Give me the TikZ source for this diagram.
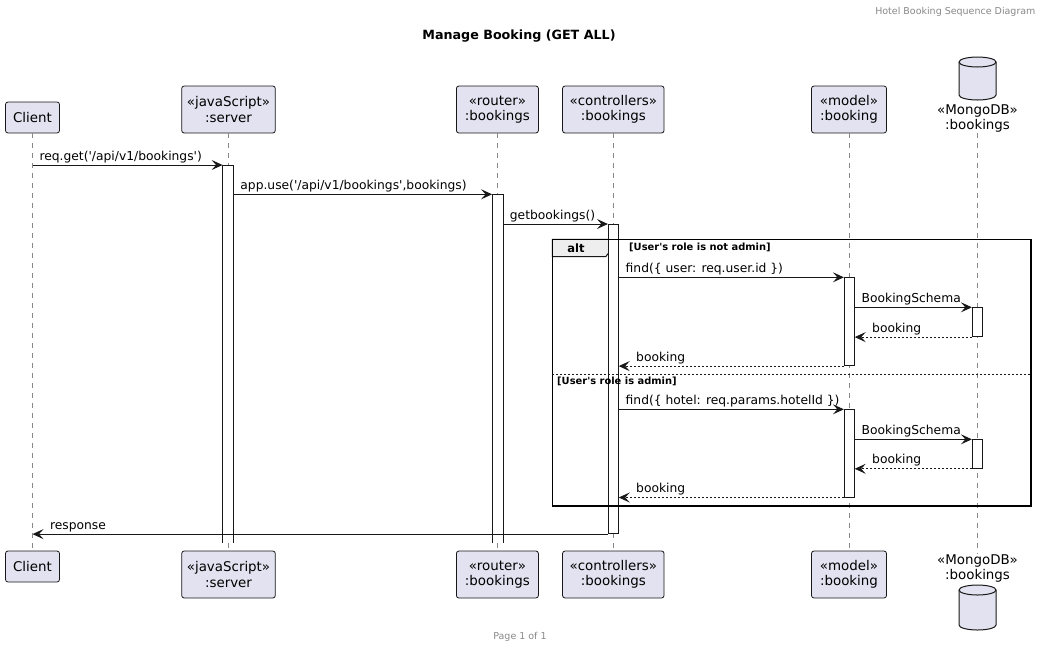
\documentclass[tikz,border=0pt]{standalone}
\usepackage{fontspec}
\setmainfont{DejaVu Sans}
\usetikzlibrary{arrows.meta}

\definecolor{partfill}{HTML}{E2E2F0}
\definecolor{partline}{HTML}{181818}
\definecolor{tabfill}{HTML}{EEEEEE}
\definecolor{notegray}{HTML}{888888}

\newcommand{\partfont}{\fontsize{13.4}{15.5}\selectfont}
\newcommand{\msgfont}{\fontsize{12.3}{14}\selectfont}
\newcommand{\guardfont}{\fontsize{9.9}{12}\selectfont\bfseries}
\newcommand{\smallfont}{\fontsize{9.5}{11}\selectfont}
\newcommand{\q}{\textquotesingle}

\tikzset{
    part/.style={draw=partline, fill=partfill, line width=0.8pt, rounded corners=2.5pt,
        align=center, inner sep=0pt, font=\partfont},
    dbtext/.style={align=center, inner sep=0pt, font=\partfont},
    dbshape/.style={draw=partline, fill=partfill, line width=1pt},
    life/.style={draw=notegray, line width=0.7pt, dash pattern=on 5pt off 5pt},
    act/.style={draw=partline, fill=white, line width=0.8pt, minimum width=10pt,
        inner sep=0pt, anchor=north},
    actopen/.style={act, draw=none},
    actside/.style={draw=partline, line width=0.8pt},
    msg/.style={draw=partline, line width=1pt, -{Stealth[length=11pt,width=10pt,inset=4.5pt]}},
    ret/.style={msg, dash pattern=on 2pt off 2pt},
    lblr/.style={anchor=base west, xshift=6.5pt, yshift=5pt, inner sep=0pt, font=\msgfont},
    lbll/.style={anchor=base west, xshift=17pt, yshift=5pt, inner sep=0pt, font=\msgfont},
    guard/.style={anchor=west, inner sep=0pt, font=\guardfont}
}

\begin{document}
\begin{tikzpicture}[x=1pt, y=-1pt]
    \useasboundingbox (0,0) rectangle (1046,649);

    % header, title and footer
    \node[font=\smallfont, text=notegray, anchor=east] (header) at (1039,12) {Hotel Booking Sequence Diagram};
    \node[font=\fontsize{12.7}{15}\selectfont\bfseries] (title) at (519,36) {Manage Booking (GET ALL)};
    \node[font=\smallfont, text=notegray] (footer) at (520,637) {Page 1 of 1};

    % participants, top row
    \node[part, minimum width=54pt, minimum height=31pt] (cli) at (32.5,117.5) {Client};
    \node[part, minimum width=93.6pt, minimum height=47pt] (srv) at (228.5,109.5) {«javaScript»\\:server};
    \node[part, minimum width=82pt, minimum height=47pt] (rtr) at (497.4,109.5) {«router»\\:bookings};
    \node[part, minimum width=101.5pt, minimum height=47pt] (ctl) at (613.3,109.5) {«controllers»\\:bookings};
    \node[part, minimum width=75pt, minimum height=47pt] (mdl) at (849,109.5) {«model»\\:booking};
    \node[dbtext] (db) at (977.5,118.5) {«MongoDB»\\:bookings};
    \draw[dbshape] (959,62) -- (959,95) arc[start angle=180, end angle=0, x radius=18.5, y radius=5]
        -- (996,62) arc[start angle=0, end angle=-180, x radius=18.5, y radius=5] -- cycle;
    \draw[partline, line width=1pt] (959,62) arc[start angle=180, end angle=0, x radius=18.5, y radius=5];

    % participants, bottom row
    \node[part, minimum width=54pt, minimum height=31pt] (cli2) at (32.5,566.5) {Client};
    \node[part, minimum width=93.6pt, minimum height=47pt] (srv2) at (228.5,574.5) {«javaScript»\\:server};
    \node[part, minimum width=82pt, minimum height=47pt] (rtr2) at (497.4,574.5) {«router»\\:bookings};
    \node[part, minimum width=101.5pt, minimum height=47pt] (ctl2) at (613.3,574.5) {«controllers»\\:bookings};
    \node[part, minimum width=75pt, minimum height=47pt] (mdl2) at (849,574.5) {«model»\\:booking};
    \node[dbtext] (db2) at (977.5,568.3) {«MongoDB»\\:bookings};
    \draw[dbshape] (959,590) -- (959,625) arc[start angle=180, end angle=0, x radius=18.5, y radius=5]
        -- (996,590) arc[start angle=0, end angle=-180, x radius=18.5, y radius=5] -- cycle;
    \draw[partline, line width=1pt] (959,590) arc[start angle=180, end angle=0, x radius=18.5, y radius=5];

    % lifelines
    \foreach \a/\b in {cli/cli2, srv/srv2, rtr/rtr2, ctl/ctl2, mdl/mdl2, db/db2}
        \draw[life] (\a.south) -- (\b.north);

    % alt frame
    \node[draw=none, minimum width=478.4pt, minimum height=266.4pt, anchor=north west, inner sep=0pt] (alt) at (552.3,239.3) {};
    \draw[draw=partline, fill=tabfill, line width=1pt] (alt.north west) -- (614,239.3) -- (614,246)
        -- (605.7,256.7) -- (552.3,256.7) -- cycle;
    \node[font=\fontsize{11.5}{13}\selectfont\bfseries, inner sep=0pt] (altlbl) at (576,248) {alt};

    % activations
    \node[actopen, minimum height=377pt] (asrv) at (228,165) {};
    \node[actopen, minimum height=348pt] (artr) at (497.5,194.3) {};
    \foreach \a in {asrv, artr}
        \draw[actside] (\a.south west) -- (\a.north west) -- (\a.north east) -- (\a.south east);
    \node[act, minimum height=309.3pt] (actl) at (613.3,224) {};
    \node[act, minimum height=88pt] (amdl1) at (849.3,277.3) {};
    \node[act, minimum height=29pt] (adb1) at (977.3,307.3) {};
    \node[act, minimum height=87.4pt] (amdl2) at (849.3,409.3) {};
    \node[act, minimum height=28.7pt] (adb2) at (977.3,439.3) {};

    \draw[draw=black, line width=1.6pt] (alt.north west) rectangle (alt.south east);
    \draw[draw=partline, line width=0.8pt, dash pattern=on 2pt off 2pt] (alt.west |- 0,374.3) -- (alt.east |- 0,374.3);
    \node[guard] (g1) at (629,247.5) {[User\q s role is not admin]};
    \node[guard] (g2) at (557,381.3) {[User\q s role is admin]};

    % messages
    \draw[msg] (cli.south |- asrv.north) -- node[pos=0, lblr] {req.get(\q/api/v1/bookings\q)} (asrv.north west);
    \draw[msg] (asrv.north east |- artr.north) -- node[pos=0, lblr] {app.use(\q/api/v1/bookings\q,bookings)} (artr.north west);
    \draw[msg] (artr.north east |- actl.north) -- node[pos=0, lblr] {getbookings()} (actl.north west);

    \draw[msg] (actl.east |- amdl1.north) -- node[pos=0, lblr] {find(\{ user: req.user.id \})} (amdl1.north west);
    \draw[msg] (amdl1.east |- adb1.north) -- node[pos=0, lblr] {BookingSchema} (adb1.north west);
    \draw[ret] (adb1.south west) -- node[pos=1, lbll] {booking} (amdl1.east |- adb1.south);
    \draw[ret] (amdl1.south west) -- node[pos=1, lbll] {booking} (actl.east |- amdl1.south);

    \draw[msg] (actl.east |- amdl2.north) -- node[pos=0, lblr] {find(\{ hotel: req.params.hotelId \})} (amdl2.north west);
    \draw[msg] (amdl2.east |- adb2.north) -- node[pos=0, lblr] {BookingSchema} (adb2.north west);
    \draw[ret] (adb2.south west) -- node[pos=1, lbll] {booking} (amdl2.east |- adb2.south);
    \draw[ret] (amdl2.south west) -- node[pos=1, lbll] {booking} (actl.east |- amdl2.south);

    \draw[msg] (actl.south west) -- node[pos=1, lbll] {response} (cli.south |- actl.south);
\end{tikzpicture}
\end{document}
